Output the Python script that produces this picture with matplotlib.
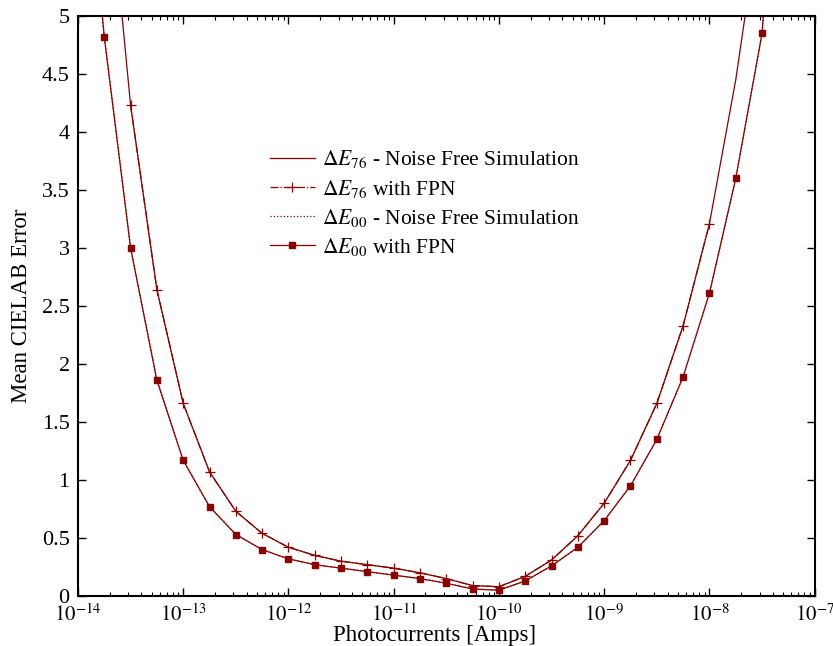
import numpy as np
import matplotlib
matplotlib.use("Agg")
import matplotlib.pyplot as plt
from matplotlib.ticker import LogLocator, NullFormatter

plt.rcParams['font.family'] = ['Liberation Serif', 'DejaVu Serif']
plt.rcParams['mathtext.fontset'] = 'stix'

# photocurrent exponents, quarter-decade steps
log_free = [-14.0, -13.75, -13.5, -13.25, -13.0, -12.75, -12.5, -12.25, -12.0,
            -11.75, -11.5, -11.25, -11.0, -10.75, -10.5, -10.25, -10.0,
            -9.75, -9.5, -9.25, -9.0, -8.75, -8.5, -8.25, -8.0, -7.75,
            -7.5, -7.25]
e76_free = [10.5, 6.6, 4.23, 2.64, 1.66, 1.07, 0.73, 0.54, 0.42,
            0.35, 0.30, 0.27, 0.24, 0.20, 0.15, 0.09, 0.08,
            0.17, 0.31, 0.52, 0.80, 1.17, 1.66, 2.33, 3.21, 4.45,
            6.0, 8.2]
e00_free = [7.2, 4.82, 3.00, 1.86, 1.17, 0.77, 0.53, 0.40, 0.32,
            0.27, 0.24, 0.21, 0.18, 0.15, 0.11, 0.06, 0.05,
            0.13, 0.26, 0.42, 0.65, 0.95, 1.35, 1.89, 2.61, 3.60,
            4.85, 8.0]

# FPN runs
log_76fpn = [-13.5, -13.25, -13.0, -12.75, -12.5, -12.25, -12.0,
             -11.75, -11.5, -11.25, -11.0, -10.75, -10.5, -10.25, -10.0,
             -9.75, -9.5, -9.25, -9.0, -8.75, -8.5, -8.25, -8.0]
e76_fpn = [4.23, 2.64, 1.66, 1.07, 0.73, 0.54, 0.42,
           0.35, 0.30, 0.27, 0.24, 0.20, 0.15, 0.09, 0.08,
           0.17, 0.31, 0.52, 0.80, 1.17, 1.66, 2.33, 3.21]
log_00fpn = log_free
e00_fpn = [7.2, 4.82, 3.00, 1.86, 1.17, 0.77, 0.53, 0.40, 0.32,
           0.27, 0.24, 0.21, 0.18, 0.15, 0.11, 0.06, 0.05,
           0.13, 0.26, 0.42, 0.65, 0.95, 1.35, 1.89, 2.61, 3.60,
           4.85, 8.0]

x_decades = [-14, -13, -12, -11, -10, -9, -8, -7]
y_ticks = [0, 0.5, 1, 1.5, 2, 2.5, 3, 3.5, 4, 4.5, 5]
y_labels = ['0', '0.5', '1', '1.5', '2', '2.5', '3', '3.5', '4', '4.5', '5']

col = '#8b0000'

fig = plt.figure(figsize=(8.33, 6.46), dpi=100)
ax = fig.add_axes([0.0936, 0.0774, 0.8844, 0.8978])

ax.plot(10.0 ** np.array(log_free), e76_free, '-', color=col, lw=0.9,
        label=r'$\Delta E_{76}$ - Noise Free Simulation')
ax.plot(10.0 ** np.array(log_76fpn), e76_fpn, '-.', color=col, lw=0.9,
        marker='+', ms=7, mew=0.9, label=r'$\Delta E_{76}$ with FPN')
ax.plot(10.0 ** np.array(log_free), e00_free, ':', color=col, lw=0.9,
        label=r'$\Delta E_{00}$ - Noise Free Simulation')
ax.plot(10.0 ** np.array(log_00fpn), e00_fpn, '-', color=col, lw=0.9,
        marker='s', ms=5, label=r'$\Delta E_{00}$ with FPN')

ax.set_xscale('log')
ax.set_xlim(1e-14, 1e-7)
ax.set_ylim(0, 5)
ax.set_yticks(y_ticks)
ax.set_yticklabels(y_labels)
ax.set_xticks([10.0 ** d for d in x_decades])
ax.set_xticklabels([r'$10^{%d}$' % d for d in x_decades])
ax.xaxis.set_minor_locator(LogLocator(base=10, subs=np.arange(2, 10), numticks=10))
ax.xaxis.set_minor_formatter(NullFormatter())

ax.tick_params(which='both', direction='in', top=True, right=True)
ax.tick_params(axis='y', pad=6, labelsize=16)
ax.tick_params(axis='x', pad=6, labelsize=15)
ax.tick_params(which='major', length=6, width=1)
ax.tick_params(which='minor', length=3, width=0.8)
for s in ax.spines.values():
    s.set_linewidth(1.5)

ax.set_xlabel('Photocurrents [Amps]', fontsize=16.5)
ax.xaxis.set_label_coords(0.484, -0.05)
ax.set_ylabel('Mean CIELAB Error', fontsize=16.5)
ax.yaxis.set_label_coords(-0.062, 0.5)

ax.legend(loc='upper left', bbox_to_anchor=(0.234, 0.805), frameon=False,
          fontsize=15.5, handlelength=2.1, labelspacing=0.33, handletextpad=0.35)

fig.savefig('out.png', dpi=100)
